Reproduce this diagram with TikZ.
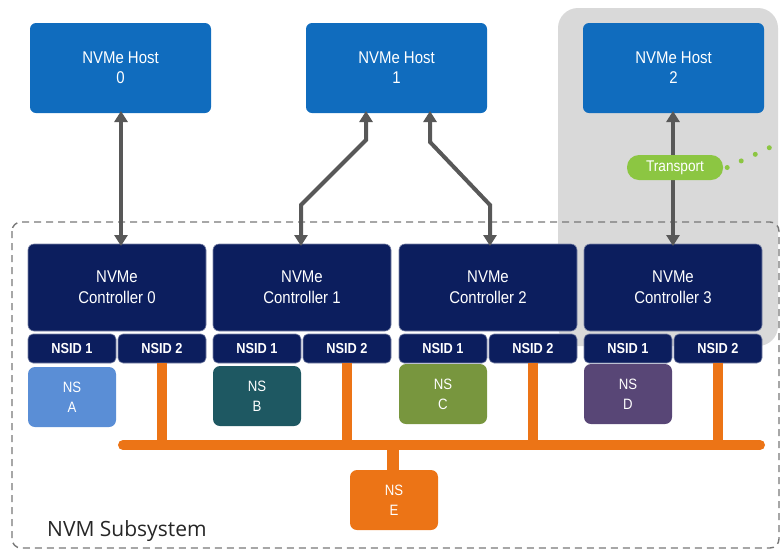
\documentclass[tikz,border=0pt]{standalone}
\usepackage{fontspec}
\setmainfont{Liberation Sans}[FakeStretch=0.88]
\newfontfamily\labelfont{Open Sans}
\usetikzlibrary{arrows.meta}

\definecolor{hostblue}{RGB}{16,108,190}
\definecolor{ctrlnavy}{RGB}{12,30,94}
\definecolor{nsa}{RGB}{90,142,214}
\definecolor{nsb}{RGB}{30,88,98}
\definecolor{nsc}{RGB}{120,150,62}
\definecolor{nsd}{RGB}{88,70,118}
\definecolor{nsorange}{RGB}{236,116,22}
\definecolor{regiongray}{RGB}{217,217,217}
\definecolor{linkgray}{RGB}{88,88,88}
\definecolor{transgreen}{RGB}{140,198,66}
\definecolor{dashgray}{RGB}{120,120,120}

\tikzset{
  box/.style={anchor=north west, inner sep=0pt, outer sep=0pt, rounded corners=6pt,
    align=center, text=white},
  hostbox/.style={box, fill=hostblue, minimum width=181pt, minimum height=90pt,
    font=\fontsize{17}{20}\selectfont},
  ctrlbox/.style={box, fill=ctrlnavy, draw=ctrlnavy!55!white, line width=0.6pt,
    minimum width=178pt, minimum height=87pt, font=\fontsize{17}{21}\selectfont},
  nsidbox/.style={box, fill=ctrlnavy, draw=ctrlnavy!55!white, line width=0.6pt,
    rounded corners=5pt, minimum width=88pt, minimum height=29pt,
    font=\bfseries\fontsize{14.5}{15}\selectfont},
  nsbox/.style={box, rounded corners=7pt, minimum width=88pt, minimum height=60pt,
    font=\fontsize{15}{20}\selectfont},
  link/.style={linkgray, line width=4pt,
    {Triangle[width=13pt,length=11pt]}-{Triangle[width=13pt,length=11pt]}},
  bus/.style={nsorange, line width=10pt},
}

\begin{document}
\begin{tikzpicture}[x=1pt, y=-1pt]
\useasboundingbox (0,0) rectangle (780,550);
\clip (0,0) rectangle (780,550);

% shaded region around host 2 and controller 3
\fill[regiongray, rounded corners=20pt] (558,8) rectangle (778,346);

% subsystem outline
\draw[dashgray, line width=1.4pt, dash pattern=on 7pt off 5pt, rounded corners=9pt]
  (12,222) rectangle (779,548);

% hosts
\node[hostbox] (h0) at (30,23)  {NVMe Host\\0};
\node[hostbox] (h1) at (306,23) {NVMe Host\\1};
\node[hostbox] (h2) at (583,23) {NVMe Host\\2};

% controllers
\node[ctrlbox] (c0) at (28,244)  {NVMe\\Controller 0};
\node[ctrlbox] (c1) at (213,244) {NVMe\\Controller 1};
\node[ctrlbox] (c2) at (399,244) {NVMe\\Controller 2};
\node[ctrlbox] (c3) at (584,244) {NVMe\\Controller 3};

% namespace IDs
\node[nsidbox] (c0a) at (28,334)  {NSID 1};
\node[nsidbox] (c0b) at (118,334) {NSID 2};
\node[nsidbox] (c1a) at (213,334) {NSID 1};
\node[nsidbox] (c1b) at (303,334) {NSID 2};
\node[nsidbox] (c2a) at (399,334) {NSID 1};
\node[nsidbox] (c2b) at (489,334) {NSID 2};
\node[nsidbox] (c3a) at (584,334) {NSID 1};
\node[nsidbox] (c3b) at (674,334) {NSID 2};

% private namespaces
\node[nsbox, fill=nsa] (nsA) at (28,367)  {NS\\A};
\node[nsbox, fill=nsb] (nsB) at (213,366) {NS\\B};
\node[nsbox, fill=nsc] (nsC) at (399,364) {NS\\C};
\node[nsbox, fill=nsd] (nsD) at (584,364) {NS\\D};

% shared namespace
\node[nsbox, fill=nsorange] (nsE) at (350,470) {NS\\E};

% shared bus
\coordinate (busL) at (123,445);
\coordinate (busR) at (760,445);
\draw[bus, line cap=round] (busL) -- (busR);
\foreach \n in {c0b,c1b,c2b,c3b}
  \draw[bus] (\n.south) -- (\n.south |- busL);
\draw[nsorange, line width=12pt] (nsE.north -| 393,0) ++(0,1) -- ++(0,-26);

% host links
\draw[link] ([yshift=2pt]h0.south -| 121,0) -- ([yshift=-2pt]c0.north -| 121,0);
\draw[link] ([yshift=2pt]h1.south -| 366,0) -- (366,140) -- (301,205)
  -- ([yshift=-2pt]c1.north -| 301,0);
\draw[link] ([yshift=2pt]h1.south -| 430,0) -- (430,142) -- (490,205)
  -- ([yshift=-2pt]c2.north -| 490,0);
\draw[link] ([yshift=2pt]h2.south -| 673,0) -- ([yshift=-2pt]c3.north -| 673,0);

% transport
\node[fill=transgreen, text=white, rounded corners=12pt, inner sep=0pt,
  minimum width=96pt, minimum height=25pt, font=\fontsize{15.5}{16}\selectfont]
  (tr) at (675,167.5) {Transport};
\coordinate (trfar) at (790,138);
\draw[transgreen, line width=5pt, line cap=round, dash pattern=on 0pt off 15.5pt]
  ([xshift=4pt]tr.east) -- (trfar);

% subsystem label
\node[anchor=base west, inner sep=0pt, text=black!85,
  font=\labelfont\fontsize{21}{24}\selectfont] (lbl) at (47,536) {NVM Subsystem};
\end{tikzpicture}
\end{document}
